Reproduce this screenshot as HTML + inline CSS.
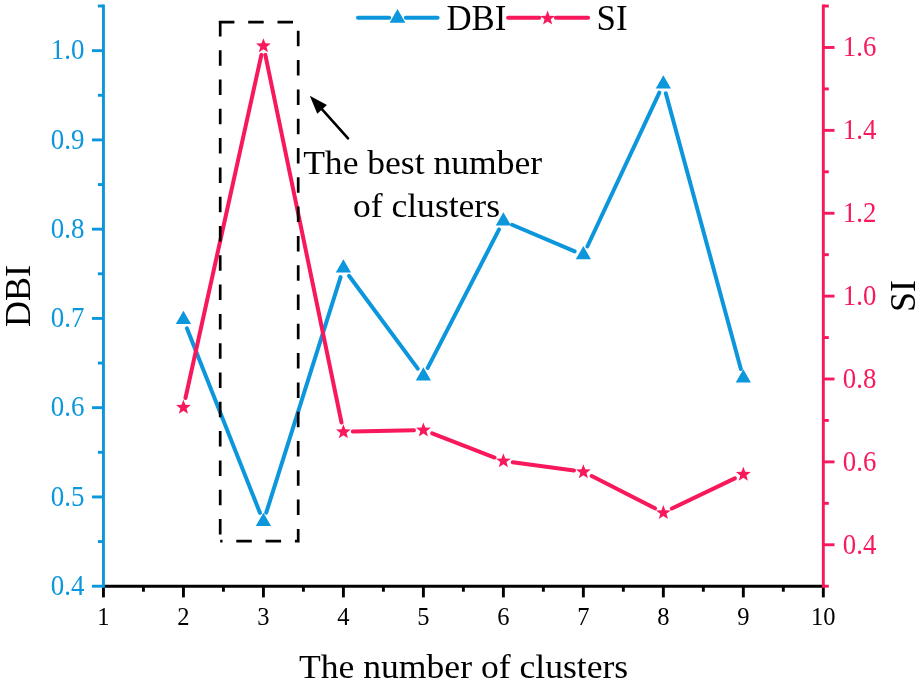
<!DOCTYPE html>
<html lang="en"><head><meta charset="utf-8"><title>DBI and SI vs number of clusters</title>
<style>html,body{margin:0;padding:0;background:#fff;}body{width:924px;height:688px;overflow:hidden;}</style></head>
<body>
<svg width="924" height="688" viewBox="0 0 924 688" style="display:block">
<rect width="924" height="688" fill="#fff"/>
<g stroke="#0C96DC" stroke-width="4.0" stroke-linecap="round"><line x1="186.90" y1="328.34" x2="259.96" y2="512.86"/><line x1="266.25" y1="512.64" x2="340.58" y2="277.16"/><line x1="349.00" y1="275.75" x2="417.80" y2="368.65"/><line x1="427.70" y1="367.85" x2="499.07" y2="229.45"/><line x1="512.03" y1="224.77" x2="574.71" y2="251.33"/><line x1="587.34" y1="246.49" x2="659.36" y2="92.61"/><line x1="665.81" y1="93.17" x2="740.86" y2="369.03"/></g>
<g fill="#0C96DC"><polygon points="183.44,310.68 191.06,323.88 175.81,323.88"/><polygon points="263.42,512.68 271.04,525.88 255.80,525.88"/><polygon points="343.40,259.27 351.03,272.47 335.78,272.47"/><polygon points="423.39,367.27 431.01,380.47 415.77,380.47"/><polygon points="503.38,212.17 511.00,225.38 495.75,225.38"/><polygon points="583.36,246.07 590.98,259.27 575.74,259.27"/><polygon points="663.35,75.17 670.97,88.38 655.72,88.38"/><polygon points="743.33,369.18 750.95,382.38 735.71,382.38"/></g>
<g stroke="#F7195C" stroke-width="4.0" stroke-linecap="round"><line x1="185.47" y1="398.02" x2="261.39" y2="54.88"/><line x1="265.33" y1="54.90" x2="341.50" y2="422.50"/><line x1="352.80" y1="431.50" x2="413.99" y2="430.20"/><line x1="432.16" y1="433.39" x2="494.61" y2="457.51"/><line x1="512.69" y1="462.16" x2="574.04" y2="470.44"/><line x1="591.73" y1="475.98" x2="654.98" y2="508.32"/><line x1="671.82" y1="508.54" x2="734.85" y2="478.36"/></g>
<g fill="#F7195C"><polygon points="183.44,399.65 185.35,404.77 190.81,405.01 186.53,408.41 187.99,413.67 183.44,410.65 178.88,413.67 180.34,408.41 176.06,405.01 181.52,404.77"/><polygon points="263.42,38.15 265.33,43.27 270.79,43.51 266.52,46.91 267.98,52.17 263.42,49.16 258.86,52.17 260.32,46.91 256.05,43.51 261.51,43.27"/><polygon points="343.40,424.15 345.32,429.27 350.78,429.51 346.50,432.91 347.96,438.17 343.40,435.15 338.85,438.17 340.31,432.91 336.03,429.51 341.49,429.27"/><polygon points="423.39,422.45 425.30,427.57 430.76,427.81 426.49,431.21 427.95,436.47 423.39,433.45 418.83,436.47 420.29,431.21 416.02,427.81 421.48,427.57"/><polygon points="503.38,453.35 505.29,458.47 510.75,458.71 506.47,462.11 507.93,467.37 503.38,464.35 498.82,467.37 500.28,462.11 496.00,458.71 501.46,458.47"/><polygon points="583.36,464.15 585.27,469.27 590.73,469.51 586.46,472.91 587.92,478.17 583.36,475.15 578.80,478.17 580.26,472.91 575.99,469.51 581.45,469.27"/><polygon points="663.35,505.05 665.26,510.17 670.72,510.41 666.44,513.81 667.90,519.07 663.35,516.06 658.79,519.07 660.25,513.81 655.97,510.41 661.43,510.17"/><polygon points="743.33,466.75 745.24,471.87 750.70,472.11 746.43,475.51 747.89,480.77 743.33,477.75 738.77,480.77 740.23,475.51 735.96,472.11 741.42,471.87"/></g>
<g fill="none" stroke="#000" stroke-width="2.7" stroke-dasharray="15.5 13.8"><path d="M218.89999999999998,22.2 H298.2 V541.1 H220.2"/><path d="M220.2,20.9 V541.1"/></g>
<line x1="322.11" y1="109.47" x2="348.03" y2="138.26" stroke="#000" stroke-width="2.6" stroke-linecap="round"/>
<polygon points="309.80,95.80 317.28,113.82 326.94,105.12" fill="#000"/>
<g stroke="#000" stroke-width="2.9" stroke-linecap="butt">
<line x1="101.95" y1="586.2" x2="824.82" y2="586.2"/>
<line x1="103.45" y1="586.2" x2="103.45" y2="597.4000000000001"/>
<line x1="183.44" y1="586.2" x2="183.44" y2="597.4000000000001"/>
<line x1="263.42" y1="586.2" x2="263.42" y2="597.4000000000001"/>
<line x1="343.40" y1="586.2" x2="343.40" y2="597.4000000000001"/>
<line x1="423.39" y1="586.2" x2="423.39" y2="597.4000000000001"/>
<line x1="503.38" y1="586.2" x2="503.38" y2="597.4000000000001"/>
<line x1="583.36" y1="586.2" x2="583.36" y2="597.4000000000001"/>
<line x1="663.35" y1="586.2" x2="663.35" y2="597.4000000000001"/>
<line x1="743.33" y1="586.2" x2="743.33" y2="597.4000000000001"/>
<line x1="823.32" y1="586.2" x2="823.32" y2="597.4000000000001"/>
<line x1="143.44" y1="586.2" x2="143.44" y2="591.7"/>
<line x1="223.43" y1="586.2" x2="223.43" y2="591.7"/>
<line x1="303.41" y1="586.2" x2="303.41" y2="591.7"/>
<line x1="383.40" y1="586.2" x2="383.40" y2="591.7"/>
<line x1="463.38" y1="586.2" x2="463.38" y2="591.7"/>
<line x1="543.37" y1="586.2" x2="543.37" y2="591.7"/>
<line x1="623.35" y1="586.2" x2="623.35" y2="591.7"/>
<line x1="703.34" y1="586.2" x2="703.34" y2="591.7"/>
<line x1="783.32" y1="586.2" x2="783.32" y2="591.7"/>
</g>
<g stroke="#0C96DC" stroke-width="2.9">
<line x1="103.45" y1="4.51" x2="103.45" y2="587.7"/>
<line x1="91.95" y1="586.20" x2="103.45" y2="586.20"/>
<line x1="91.95" y1="496.94" x2="103.45" y2="496.94"/>
<line x1="91.95" y1="407.68" x2="103.45" y2="407.68"/>
<line x1="91.95" y1="318.42" x2="103.45" y2="318.42"/>
<line x1="91.95" y1="229.16" x2="103.45" y2="229.16"/>
<line x1="91.95" y1="139.90" x2="103.45" y2="139.90"/>
<line x1="91.95" y1="50.64" x2="103.45" y2="50.64"/>
<line x1="97.85" y1="541.57" x2="103.45" y2="541.57"/>
<line x1="97.85" y1="452.31" x2="103.45" y2="452.31"/>
<line x1="97.85" y1="363.05" x2="103.45" y2="363.05"/>
<line x1="97.85" y1="273.79" x2="103.45" y2="273.79"/>
<line x1="97.85" y1="184.53" x2="103.45" y2="184.53"/>
<line x1="97.85" y1="95.27" x2="103.45" y2="95.27"/>
<line x1="97.85" y1="6.01" x2="103.45" y2="6.01"/>
</g>
<g stroke="#F7195C" stroke-width="2.9">
<line x1="823.32" y1="4.54" x2="823.32" y2="587.7"/>
<line x1="823.32" y1="586.20" x2="828.82" y2="586.20"/>
<line x1="823.32" y1="544.76" x2="834.52" y2="544.76"/>
<line x1="823.32" y1="503.32" x2="828.82" y2="503.32"/>
<line x1="823.32" y1="461.88" x2="834.52" y2="461.88"/>
<line x1="823.32" y1="420.44" x2="828.82" y2="420.44"/>
<line x1="823.32" y1="379.00" x2="834.52" y2="379.00"/>
<line x1="823.32" y1="337.56" x2="828.82" y2="337.56"/>
<line x1="823.32" y1="296.12" x2="834.52" y2="296.12"/>
<line x1="823.32" y1="254.68" x2="828.82" y2="254.68"/>
<line x1="823.32" y1="213.24" x2="834.52" y2="213.24"/>
<line x1="823.32" y1="171.80" x2="828.82" y2="171.80"/>
<line x1="823.32" y1="130.36" x2="834.52" y2="130.36"/>
<line x1="823.32" y1="88.92" x2="828.82" y2="88.92"/>
<line x1="823.32" y1="47.48" x2="834.52" y2="47.48"/>
<line x1="823.32" y1="6.04" x2="828.82" y2="6.04"/>
</g>
<g font-family="Liberation Serif, serif">
<text transform="translate(103.45,624.70)" font-size="24.5" text-anchor="middle" fill="#000">1</text>
<text transform="translate(183.44,624.70)" font-size="24.5" text-anchor="middle" fill="#000">2</text>
<text transform="translate(263.42,624.70)" font-size="24.5" text-anchor="middle" fill="#000">3</text>
<text transform="translate(343.40,624.70)" font-size="24.5" text-anchor="middle" fill="#000">4</text>
<text transform="translate(423.39,624.70)" font-size="24.5" text-anchor="middle" fill="#000">5</text>
<text transform="translate(503.38,624.70)" font-size="24.5" text-anchor="middle" fill="#000">6</text>
<text transform="translate(583.36,624.70)" font-size="24.5" text-anchor="middle" fill="#000">7</text>
<text transform="translate(663.35,624.70)" font-size="24.5" text-anchor="middle" fill="#000">8</text>
<text transform="translate(743.33,624.70)" font-size="24.5" text-anchor="middle" fill="#000">9</text>
<text transform="translate(823.32,624.70)" font-size="24.5" text-anchor="middle" fill="#000">10</text>
<text transform="translate(84.40,594.90) scale(0.945,1)" font-size="28.5" text-anchor="end" fill="#0C96DC">0.4</text>
<text transform="translate(84.40,505.64) scale(0.945,1)" font-size="28.5" text-anchor="end" fill="#0C96DC">0.5</text>
<text transform="translate(84.40,416.38) scale(0.945,1)" font-size="28.5" text-anchor="end" fill="#0C96DC">0.6</text>
<text transform="translate(84.40,327.12) scale(0.945,1)" font-size="28.5" text-anchor="end" fill="#0C96DC">0.7</text>
<text transform="translate(84.40,237.86) scale(0.945,1)" font-size="28.5" text-anchor="end" fill="#0C96DC">0.8</text>
<text transform="translate(84.40,148.60) scale(0.945,1)" font-size="28.5" text-anchor="end" fill="#0C96DC">0.9</text>
<text transform="translate(84.40,59.34) scale(0.945,1)" font-size="28.5" text-anchor="end" fill="#0C96DC">1.0</text>
<text transform="translate(842.80,553.66) scale(0.94,1)" font-size="28.5" text-anchor="start" fill="#F7195C">0.4</text>
<text transform="translate(842.80,470.78) scale(0.94,1)" font-size="28.5" text-anchor="start" fill="#F7195C">0.6</text>
<text transform="translate(842.80,387.90) scale(0.94,1)" font-size="28.5" text-anchor="start" fill="#F7195C">0.8</text>
<text transform="translate(842.80,305.02) scale(0.94,1)" font-size="28.5" text-anchor="start" fill="#F7195C">1.0</text>
<text transform="translate(842.80,222.14) scale(0.94,1)" font-size="28.5" text-anchor="start" fill="#F7195C">1.2</text>
<text transform="translate(842.80,139.26) scale(0.94,1)" font-size="28.5" text-anchor="start" fill="#F7195C">1.4</text>
<text transform="translate(842.80,56.38) scale(0.94,1)" font-size="28.5" text-anchor="start" fill="#F7195C">1.6</text>
<text transform="translate(463.60,678.30) scale(1.029,1)" font-size="34.6" text-anchor="middle" fill="#000">The number of clusters</text>
<text transform="translate(30.15,296.00) rotate(-90)" font-size="36.1" text-anchor="middle" fill="#000">DBI</text>
<text transform="translate(915.30,296.00) rotate(-90)" font-size="36.1" text-anchor="middle" fill="#000">SI</text>
<text transform="translate(422.60,173.80) scale(1.04,1)" font-size="34.2" text-anchor="middle" fill="#000">The best number</text>
<text transform="translate(426.50,217.30) scale(1.04,1)" font-size="34.2" text-anchor="middle" fill="#000">of clusters</text>
<text transform="translate(446.40,29.70) scale(0.975,1)" font-size="35.7" text-anchor="start" fill="#000">DBI</text>
<text transform="translate(596.60,29.70) scale(0.975,1)" font-size="35.7" text-anchor="start" fill="#000">SI</text>
</g>
<g stroke="#0C96DC" stroke-width="4.0" stroke-linecap="round"><line x1="358.0" y1="17.8" x2="389.2" y2="17.8"/><line x1="405.8" y1="17.8" x2="437.6" y2="17.8"/></g>
<g fill="#0C96DC"><polygon points="397.50,9.08 405.38,22.73 389.62,22.73"/></g>
<g stroke="#F7195C" stroke-width="4.0" stroke-linecap="round"><line x1="508.1" y1="17.8" x2="539.3000000000001" y2="17.8"/><line x1="555.9" y1="17.8" x2="588.1" y2="17.8"/></g>
<g fill="#F7195C"><polygon points="547.60,10.55 549.51,15.67 554.97,15.91 550.70,19.31 552.16,24.57 547.60,21.55 543.04,24.57 544.50,19.31 540.23,15.91 545.69,15.67"/></g>
</svg>
</body></html>
